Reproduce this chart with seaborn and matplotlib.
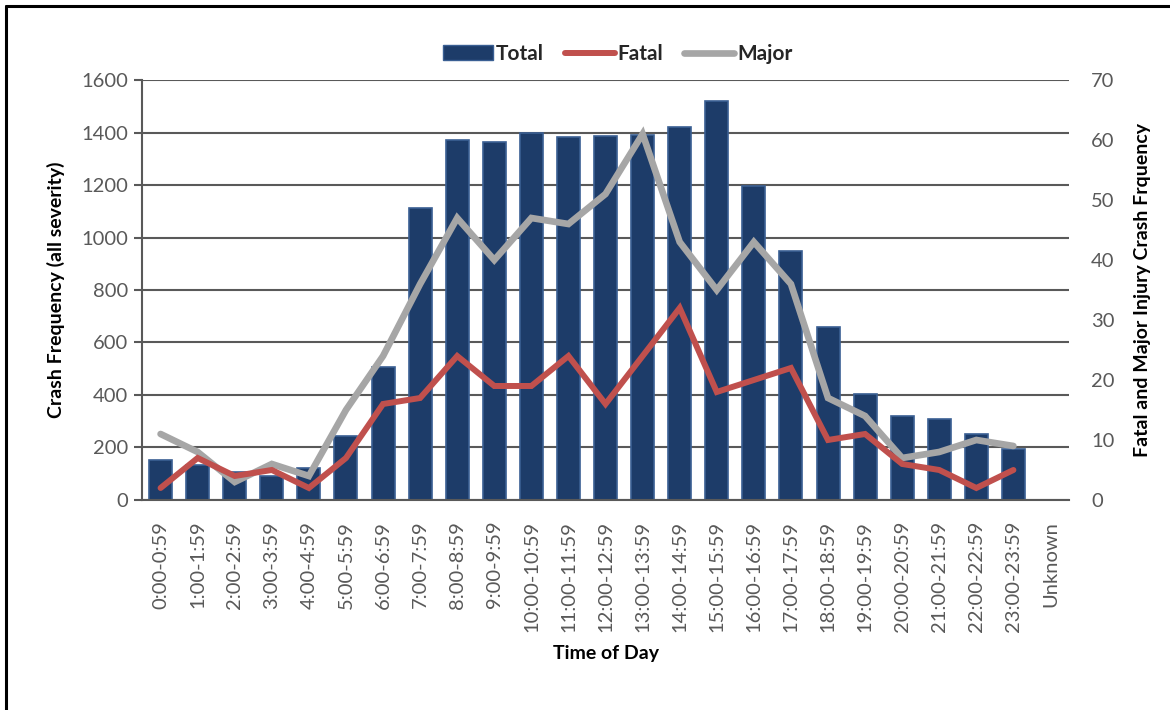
import numpy as np
import pandas as pd
import seaborn as sns
import matplotlib.pyplot as plt
from matplotlib.patches import Patch
from matplotlib.lines import Line2D

# data
hours = ['0:00-0:59', '1:00-1:59', '2:00-2:59', '3:00-3:59', '4:00-4:59',
         '5:00-5:59', '6:00-6:59', '7:00-7:59', '8:00-8:59', '9:00-9:59',
         '10:00-10:59', '11:00-11:59', '12:00-12:59', '13:00-13:59',
         '14:00-14:59', '15:00-15:59', '16:00-16:59', '17:00-17:59',
         '18:00-18:59', '19:00-19:59', '20:00-20:59', '21:00-21:59',
         '22:00-22:59', '23:00-23:59']
categories = hours + ['Unknown']
total = [152, 133, 107, 91, 122, 244, 507, 1112, 1371, 1365, 1400, 1381,
         1386, 1390, 1420, 1521, 1197, 948, 660, 403, 321, 308, 250, 194]
fatal = [2, 7, 4, 5, 2, 7, 16, 17, 24, 19, 19, 24, 16, 24, 32, 18, 20, 22,
         10, 11, 6, 5, 2, 5]
major = [11, 8, 3, 6, 4, 15, 24, 36, 47, 40, 47, 46, 51, 61, 43, 35, 43, 36,
         17, 14, 7, 8, 10, 9]

bar_color = '#1D3C69'
bar_edge = '#3A5F93'
fatal_color = '#C0504D'
major_color = '#A6A6A6'
grid_color = '#595959'
tick_color = '#595959'
fs = 14.5

sns.set_theme(style='white')
plt.rcParams['font.family'] = ['Lato', 'DejaVu Sans']

fig = plt.figure(figsize=(11.7, 7.1), dpi=100)
ax = fig.add_axes([0.1214, 0.2958, 0.7923, 0.5915])

df = pd.DataFrame({'hour': hours, 'total': total})
sns.barplot(data=df, x='hour', y='total', order=categories, ax=ax,
            color=bar_color, width=0.62, saturation=1,
            edgecolor=bar_edge, linewidth=1.2, zorder=2)

ax.set_xlim(-0.5, len(categories) - 0.5)
ax.set_ylim(0, 1600)
ax.set_yticks(range(0, 1601, 200))
ax.yaxis.grid(True, color=grid_color, linewidth=1.5, zorder=0)
ax.set_axisbelow(True)
for s in ['top', 'right']:
    ax.spines[s].set_visible(False)
for s in ['left', 'bottom']:
    ax.spines[s].set_color(grid_color)
    ax.spines[s].set_linewidth(1.5)
ax.tick_params(axis='y', which='major', left=True, length=6, width=1.5,
               color=grid_color, labelsize=fs, labelcolor=tick_color, pad=4)
ax.tick_params(axis='x', bottom=False, labelsize=fs, labelcolor=tick_color,
               pad=9)
ax.set_xticks(range(len(categories)))
ax.set_xticklabels(categories, rotation=90)
ax.set_xlabel('Time of Day', fontsize=14, fontweight='bold', color='black',
              labelpad=9)
ax.set_ylabel('Crash Frequency (all severity)', fontsize=14,
              fontweight='bold', color='black', labelpad=12)

ax2 = ax.twinx()
lines = pd.DataFrame({'pos': np.arange(len(hours)), 'fatal': fatal,
                      'major': major})
sns.lineplot(data=lines, x='pos', y='major', ax=ax2, color=major_color,
             linewidth=4.8, solid_capstyle='round', solid_joinstyle='miter')
sns.lineplot(data=lines, x='pos', y='fatal', ax=ax2, color=fatal_color,
             linewidth=4.3, solid_capstyle='round', solid_joinstyle='miter')
ax2.set_ylim(0, 70)
ax2.set_yticks(range(0, 71, 10))
ax2.set_xlim(-0.5, len(categories) - 0.5)
for s in ['top', 'right', 'left', 'bottom']:
    ax2.spines[s].set_visible(False)
ax2.tick_params(axis='y', right=False, labelsize=fs, labelcolor=tick_color,
                pad=10)
ax2.set_xlabel('')
ax2.set_ylabel('Fatal and Major Injury Crash Frquency', fontsize=14,
               fontweight='bold', color='black', labelpad=14)

handles = [Patch(facecolor=bar_color, edgecolor=bar_edge, label='Total'),
           Line2D([], [], color=fatal_color, linewidth=4.3,
                  solid_capstyle='round', label='Fatal'),
           Line2D([], [], color=major_color, linewidth=4.8,
                  solid_capstyle='round', label='Major')]
fig.legend(handles=handles, loc='center', bbox_to_anchor=(0.528, 0.924),
           ncol=3, frameon=False, prop={'weight': 'bold', 'size': 15},
           handlelength=2.4, handletextpad=0.15, columnspacing=1.0)

# outer frame of the chart area
fig.add_artist(Line2D([0.0055, 0.0055], [0, 0.9915], color='black',
                      linewidth=2.2, transform=fig.transFigure))
fig.add_artist(Line2D([0.0055, 1], [0.9915, 0.9915], color='black',
                      linewidth=2.2, transform=fig.transFigure))

fig.savefig('out.png', dpi=100)
